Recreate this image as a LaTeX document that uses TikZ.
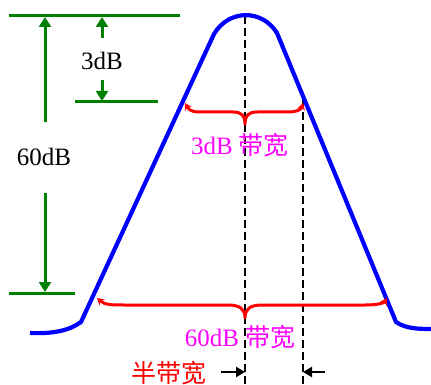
\documentclass[tikz,border=0pt]{standalone}
\usepackage{fontspec}
\setmainfont{Liberation Serif}
\newfontfamily\cjk{Noto Sans CJK SC}
\usetikzlibrary{arrows.meta}
\definecolor{curveblue}{RGB}{0,0,255}
\definecolor{levelgreen}{RGB}{0,128,0}
\definecolor{bracered}{RGB}{255,0,0}
\definecolor{labelpink}{RGB}{255,0,255}

\begin{document}
\begin{tikzpicture}[x=1pt,y=-1pt,line join=round,
  level/.style={draw=levelgreen,line width=3pt},
  gap/.style={levelgreen,line width=3pt,-{Triangle[width=12pt,length=10pt]}},
  bw/.style={draw=bracered,line width=3pt,{Stealth[width=8pt,length=7pt]}-{Stealth[width=8pt,length=7pt]}},
  axis/.style={draw=black,line width=1.1pt,dash pattern=on 8pt off 4pt},
  half/.style={black,line width=2.2pt,-{Triangle[width=10pt,length=9pt]}},
  txt/.style={font=\fontsize{25}{29}\selectfont,inner sep=0pt}]
  \useasboundingbox (0,0) rectangle (431,385);
  % level lines and their distances
  \draw[level] (9,16) -- (180,16);
  \draw[level] (75,102) -- (158,102);
  \draw[level] (9,293) -- (75,293);
  \node[txt] (l3) at (102,61) {3dB};
  \node[txt] (l60) at (44,157) {60dB};
  \draw[gap] (102,38) -- (102,17);
  \draw[gap] (102,80) -- (102,101);
  \draw[gap] (45,122) -- (45,17);
  \draw[gap] (45,193) -- (45,292);
  % centre line and band edge
  \draw[axis] (245,16) -- (245,385);
  \draw[axis] (303,100) -- (303,385);
  % filter response
  \draw[curveblue,line width=4.2pt] (30,333) .. controls (55,334) and (70,330) .. (81,322)
    -- (214,34) .. controls (229,9) and (262,9) .. (277,33)
    -- (396,322) .. controls (405,328) and (415,329) .. (431,329);
  % bandwidth braces
  \draw[bw] (185,103) .. controls (190,112) and (195,112) .. (205,112) -- (233,112)
    .. controls (242,112) and (245,116) .. (245,124) .. controls (245,116) and (248,112) .. (257,112)
    -- (288,112) .. controls (296,112) and (301,110) .. (303,103);
  \draw[bw] (97,298) .. controls (105,305) and (112,305) .. (125,305) -- (228,305)
    .. controls (240,305) and (245,309) .. (245,318) .. controls (245,309) and (250,305) .. (262,305)
    -- (365,305) .. controls (378,305) and (384,303) .. (387,298);
  \node[txt,text=labelpink] (n3) at (240,145) {3dB {\cjk 带宽}};
  \node[txt,text=labelpink] (n60) at (240,337) {60dB {\cjk 带宽}};
  % half bandwidth
  \node[txt,text=bracered] (hb) at (169,373) {\cjk 半带宽};
  \coordinate (c0) at (245,372);
  \coordinate (c1) at (303,372);
  \draw[half] ([xshift=-24pt]c0) -- (c0);
  \draw[half] ([xshift=22pt]c1) -- (c1);
\end{tikzpicture}
\end{document}
